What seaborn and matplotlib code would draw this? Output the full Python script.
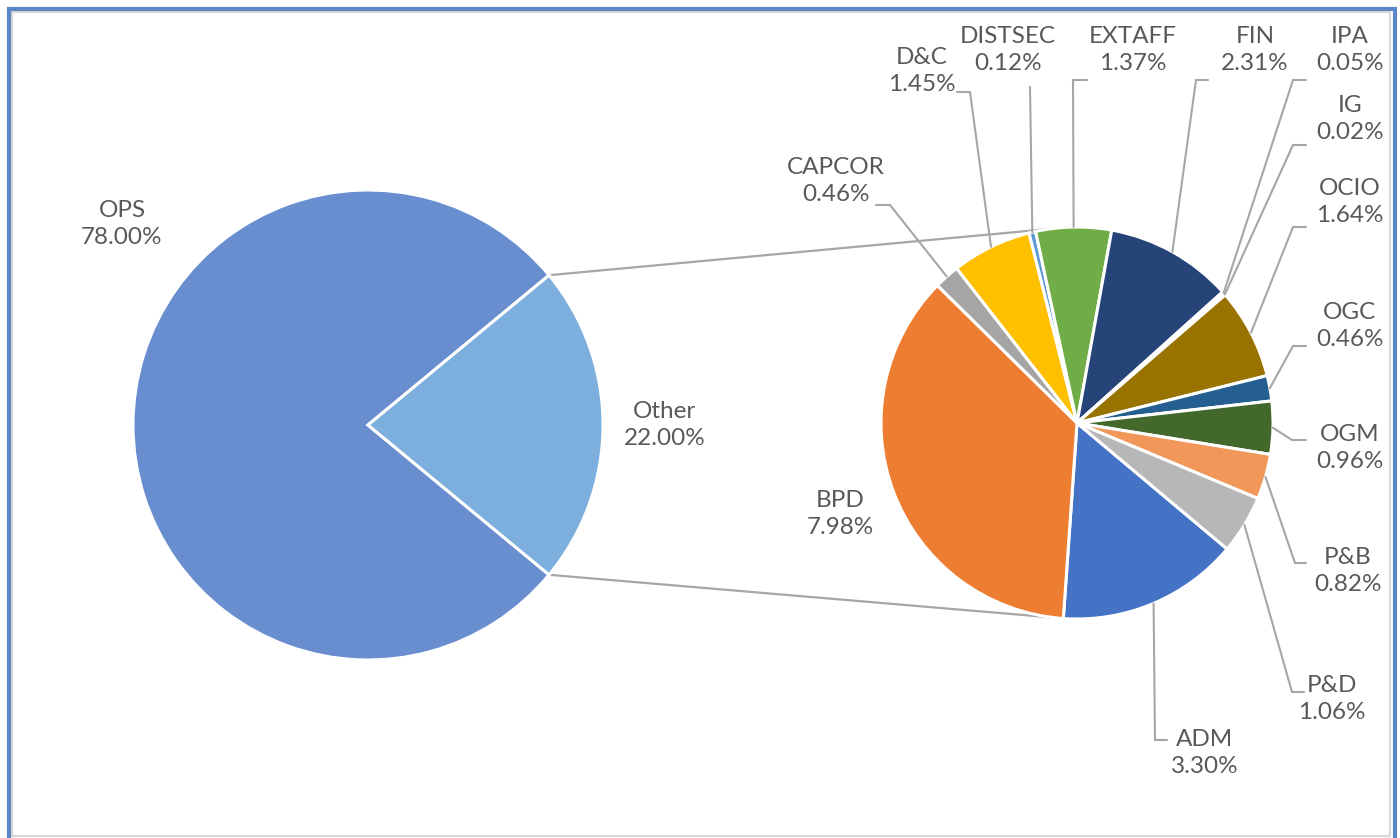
import numpy as np
import matplotlib
matplotlib.use("Agg")
import matplotlib.pyplot as plt
from matplotlib.patches import Rectangle
import seaborn as sns

# ---------------- data ----------------
main_labels = ["OPS", "Other"]
main_values = [78.00, 22.00]
main_colors = ["#698ED0", "#7CAFDD"]

sub_labels = ["ADM", "BPD", "CAPCOR", "D&C", "DISTSEC", "EXTAFF", "FIN",
              "IPA", "IG", "OCIO", "OGC", "OGM", "P&B", "P&D"]
sub_values = [3.30, 7.98, 0.46, 1.45, 0.12, 1.37, 2.31,
              0.05, 0.02, 1.64, 0.46, 0.96, 0.82, 1.06]
sub_colors = ["#4472C4", "#ED7D31", "#A5A5A5", "#FFC000", "#5B9BD5", "#70AD47",
              "#264478", "#9E480E", "#636363", "#997300", "#255E91", "#43682B",
              "#F1975A", "#B7B7B7"]

# ---------------- style ----------------
sns.set_theme(style="white")
plt.rcParams["font.family"] = ["Lato", "DejaVu Sans"]
TXT = "#595959"
LEAD = "#A6A6A6"
FS = 17.5
LS = 1.36

W, H = 1400, 838
fig = plt.figure(figsize=(W / 100, H / 100), dpi=100)
ax = fig.add_axes([0, 0, 1, 1])


def P(x, y):
    """layout helper: pixel position (from top-left) -> data coords"""
    return x, H - y


# ---------------- main pie ----------------
c1 = P(368, 425)
r1 = 235
other_span = main_values[1] / sum(main_values) * 360.0
w1, _ = ax.pie(main_values, colors=main_colors, center=c1, radius=r1,
               startangle=other_span / 2, counterclock=True,
               wedgeprops=dict(edgecolor="white", linewidth=2.2), frame=False)

# ---------------- sub pie ----------------
c2 = P(1077, 423)
r2 = 196
w2, _ = ax.pie(sub_values, colors=sub_colors, center=c2, radius=r2,
               startangle=-40, counterclock=False,
               wedgeprops=dict(edgecolor="white", linewidth=2.2), frame=False)

# connector lines between pies
for a1, a2 in [(other_span / 2, 98.0), (-other_span / 2, -97.0)]:
    p1 = (c1[0] + r1 * np.cos(np.radians(a1)), c1[1] + r1 * np.sin(np.radians(a1)))
    p2 = (c2[0] + r2 * np.cos(np.radians(a2)), c2[1] + r2 * np.sin(np.radians(a2)))
    ax.plot([p1[0], p2[0]], [p1[1], p2[1]], color=LEAD, lw=1.6,
            solid_capstyle="butt", zorder=0.5)


def lab(name, val):
    return f"{name}\n{val:.2f}%"


# main pie labels
main_pos = {"OPS": (122, 224), "Other": (665, 425)}
for n, v in zip(main_labels, main_values):
    ax.text(*P(*main_pos[n]), lab(n, v), ha="center", va="center",
            fontsize=FS, color=TXT, linespacing=LS)

# sub pie labels: text centre, leader start, elbow (layout, pixels)
sub_layout = {
    "CAPCOR": ((836, 181), (876, 205), (890, 205)),
    "D&C": ((922, 71), (957, 92), (970, 92)),
    "DISTSEC": ((1008, 50), (1030, 87), (1030, 87)),
    "EXTAFF": ((1133, 50), (1087, 80), (1073, 80)),
    "FIN": ((1255, 50), (1208, 80), (1196, 80)),
    "IPA": ((1350, 50), (1306, 80), (1293, 80)),
    "IG": ((1350, 119), (1306, 145), (1293, 145)),
    "OCIO": ((1350, 202), (1306, 227), (1293, 227)),
    "OGC": ((1350, 326), (1306, 346), (1293, 346)),
    "OGM": ((1350, 448), (1306, 440), (1292, 440)),
    "P&B": ((1348, 571), (1306, 563), (1295, 563)),
    "P&D": ((1332, 699), (1304, 692), (1292, 692)),
    "ADM": ((1205, 753), (1167, 740), (1155, 740)),
    "BPD": ((840, 514), None, None),
}

for wedge, n, v in zip(w2, sub_labels, sub_values):
    tpos, start, elbow = sub_layout[n]
    ax.text(*P(*tpos), lab(n, v), ha="center", va="center",
            fontsize=FS, color=TXT, linespacing=LS, zorder=5)
    if start is None:
        continue
    mid = np.radians((wedge.theta1 + wedge.theta2) / 2)
    anchor = (c2[0] + r2 * np.cos(mid), c2[1] + r2 * np.sin(mid))
    s = P(*start)
    e = P(*elbow)
    ax.plot([s[0], e[0], anchor[0]], [s[1], e[1], anchor[1]],
            color=LEAD, lw=1.5, zorder=4, solid_joinstyle="miter")

ax.set_xlim(0, W)
ax.set_ylim(0, H)
ax.set_aspect("equal")
ax.axis("off")

# chart frame (blue outer, light gray inner)
fig.patches.append(Rectangle((12 / W, 2 / H), (1390 - 12) / W, (H - 14) / H,
                             transform=fig.transFigure, fill=False,
                             edgecolor="#D9D9D9", lw=1.6, zorder=10))
fig.patches.append(Rectangle((8.5 / W, -0.05), (1394.5 - 8.5) / W, (H - 9) / H + 0.05,
                             transform=fig.transFigure, fill=False,
                             edgecolor="#5B87C7", lw=3.0, zorder=11))

fig.savefig("out.png", dpi=100, facecolor="white")
